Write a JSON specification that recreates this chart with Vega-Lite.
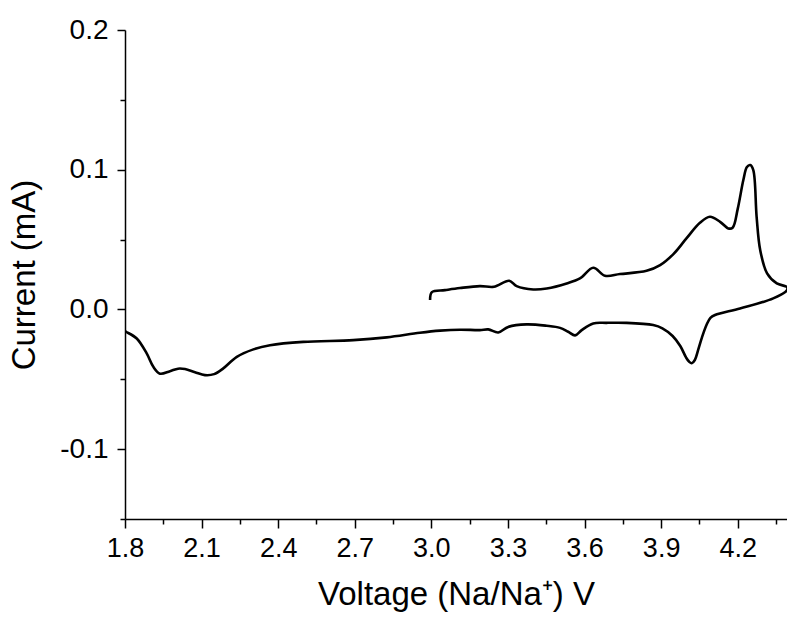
{
  "$schema": "https://vega.github.io/schema/vega-lite/v6.json",
  "width": 662,
  "height": 489,
  "autosize": {"type": "none"},
  "padding": {"left": 125, "top": 30, "right": 0, "bottom": 103},
  "background": "white",
  "config": {
    "view": {"stroke": null},
    "font": "Liberation Sans",
    "axis": {
      "grid": false,
      "domainColor": "black",
      "domainWidth": 1.5,
      "tickColor": "black",
      "tickWidth": 1.5,
      "labelColor": "black",
      "titleColor": "black",
      "labelFont": "Liberation Sans",
      "titleFont": "Liberation Sans",
      "titleFontWeight": "normal",
      "labelFlush": false,
      "labelOverlap": false
    }
  },
  "data": {
    "values": [
      {"i": 1, "v": 2.995, "c": 0.0067},
      {"i": 2, "v": 3.002, "c": 0.0124},
      {"i": 3, "v": 3.053, "c": 0.0138},
      {"i": 4, "v": 3.112, "c": 0.0153},
      {"i": 5, "v": 3.190, "c": 0.0167},
      {"i": 6, "v": 3.245, "c": 0.0162},
      {"i": 7, "v": 3.305, "c": 0.0205},
      {"i": 8, "v": 3.334, "c": 0.0167},
      {"i": 9, "v": 3.399, "c": 0.0143},
      {"i": 10, "v": 3.452, "c": 0.0150},
      {"i": 11, "v": 3.530, "c": 0.0186},
      {"i": 12, "v": 3.582, "c": 0.0222},
      {"i": 13, "v": 3.634, "c": 0.0298},
      {"i": 14, "v": 3.680, "c": 0.0241},
      {"i": 15, "v": 3.739, "c": 0.0253},
      {"i": 16, "v": 3.843, "c": 0.0276},
      {"i": 17, "v": 3.896, "c": 0.0317},
      {"i": 18, "v": 3.948, "c": 0.0396},
      {"i": 19, "v": 3.999, "c": 0.0508},
      {"i": 20, "v": 4.052, "c": 0.0620},
      {"i": 21, "v": 4.091, "c": 0.0663},
      {"i": 22, "v": 4.131, "c": 0.0627},
      {"i": 23, "v": 4.163, "c": 0.0580},
      {"i": 24, "v": 4.180, "c": 0.0585},
      {"i": 25, "v": 4.200, "c": 0.0720},
      {"i": 26, "v": 4.222, "c": 0.0926},
      {"i": 27, "v": 4.236, "c": 0.1019},
      {"i": 28, "v": 4.249, "c": 0.1033},
      {"i": 29, "v": 4.261, "c": 0.0997},
      {"i": 30, "v": 4.274, "c": 0.0663},
      {"i": 31, "v": 4.288, "c": 0.0425},
      {"i": 32, "v": 4.315, "c": 0.0258},
      {"i": 33, "v": 4.353, "c": 0.0186},
      {"i": 34, "v": 4.393, "c": 0.0160},
      {"i": 35, "v": 4.393, "c": 0.0138},
      {"i": 36, "v": 4.339, "c": 0.0079},
      {"i": 37, "v": 4.209, "c": 0.0007},
      {"i": 38, "v": 4.111, "c": -0.0040},
      {"i": 39, "v": 4.093, "c": -0.0060},
      {"i": 40, "v": 4.078, "c": -0.0110},
      {"i": 41, "v": 4.060, "c": -0.0200},
      {"i": 42, "v": 4.045, "c": -0.0290},
      {"i": 43, "v": 4.032, "c": -0.0362},
      {"i": 44, "v": 4.020, "c": -0.0385},
      {"i": 45, "v": 4.010, "c": -0.0375},
      {"i": 46, "v": 3.998, "c": -0.0345},
      {"i": 47, "v": 3.975, "c": -0.0262},
      {"i": 48, "v": 3.945, "c": -0.0190},
      {"i": 49, "v": 3.905, "c": -0.0135},
      {"i": 50, "v": 3.869, "c": -0.0112},
      {"i": 51, "v": 3.765, "c": -0.0096},
      {"i": 52, "v": 3.687, "c": -0.0096},
      {"i": 53, "v": 3.634, "c": -0.0100},
      {"i": 54, "v": 3.589, "c": -0.0148},
      {"i": 55, "v": 3.563, "c": -0.0186},
      {"i": 56, "v": 3.536, "c": -0.0160},
      {"i": 57, "v": 3.504, "c": -0.0132},
      {"i": 58, "v": 3.452, "c": -0.0117},
      {"i": 59, "v": 3.373, "c": -0.0107},
      {"i": 60, "v": 3.301, "c": -0.0125},
      {"i": 61, "v": 3.262, "c": -0.0165},
      {"i": 62, "v": 3.223, "c": -0.0143},
      {"i": 63, "v": 3.190, "c": -0.0148},
      {"i": 64, "v": 3.112, "c": -0.0145},
      {"i": 65, "v": 3.034, "c": -0.0152},
      {"i": 66, "v": 2.955, "c": -0.0167},
      {"i": 67, "v": 2.825, "c": -0.0200},
      {"i": 68, "v": 2.694, "c": -0.0220},
      {"i": 69, "v": 2.498, "c": -0.0232},
      {"i": 70, "v": 2.368, "c": -0.0256},
      {"i": 71, "v": 2.303, "c": -0.0286},
      {"i": 72, "v": 2.238, "c": -0.0339},
      {"i": 73, "v": 2.185, "c": -0.0422},
      {"i": 74, "v": 2.149, "c": -0.0463},
      {"i": 75, "v": 2.113, "c": -0.0470},
      {"i": 76, "v": 2.074, "c": -0.0449},
      {"i": 77, "v": 2.035, "c": -0.0427},
      {"i": 78, "v": 2.008, "c": -0.0424},
      {"i": 79, "v": 1.976, "c": -0.0442},
      {"i": 80, "v": 1.937, "c": -0.0460},
      {"i": 81, "v": 1.911, "c": -0.0411},
      {"i": 82, "v": 1.885, "c": -0.0315},
      {"i": 83, "v": 1.846, "c": -0.0208},
      {"i": 84, "v": 1.804, "c": -0.0160},
      {"i": 85, "v": 1.800, "c": -0.0155}
    ]
  },
  "layer": [
    {
      "mark": {"type": "line", "color": "black", "strokeWidth": 2.6, "interpolate": "catmull-rom", "clip": true},
      "encoding": {
        "x": {
          "field": "v", "type": "quantitative",
          "scale": {"domain": [1.8, 4.393], "nice": false, "zero": false},
          "axis": {
            "orient": "bottom",
            "values": [1.8, 2.1, 2.4, 2.7, 3.0, 3.3, 3.6, 3.9, 4.2],
            "format": ".1f",
            "tickSize": 9,
            "labelFontSize": 27,
            "labelPadding": 7,
            "title": "Voltage (Na/Na⁺) V",
            "titleFontSize": 33,
            "titlePadding": 17
          }
        },
        "y": {
          "field": "c", "type": "quantitative",
          "scale": {"domain": [-0.15, 0.2], "nice": false, "zero": false},
          "axis": {
            "orient": "left",
            "values": [-0.1, 0, 0.1, 0.2],
            "labelExpr": "replace(format(datum.value, '.1f'), '−', '-')",
            "tickSize": 8,
            "labelFontSize": 28,
            "labelPadding": 9,
            "title": "Current (mA)",
            "titleFontSize": 33,
            "titlePadding": 18
          }
        },
        "order": {"field": "i", "type": "quantitative"}
      }
    },
    {
      "mark": {"type": "line", "opacity": 0},
      "encoding": {
        "x": {
          "field": "v", "type": "quantitative",
          "axis": {
            "orient": "bottom",
            "values": [1.95, 2.25, 2.55, 2.85, 3.15, 3.45, 3.75, 4.05, 4.35],
            "tickSize": 5,
            "labels": false,
            "domain": false,
            "title": null
          }
        },
        "y": {
          "field": "c", "type": "quantitative",
          "axis": {
            "orient": "left",
            "values": [-0.15, -0.05, 0.05, 0.15],
            "tickSize": 5,
            "labels": false,
            "domain": false,
            "title": null
          }
        },
        "order": {"field": "i", "type": "quantitative"}
      }
    }
  ],
  "resolve": {"axis": {"x": "independent", "y": "independent"}}
}
